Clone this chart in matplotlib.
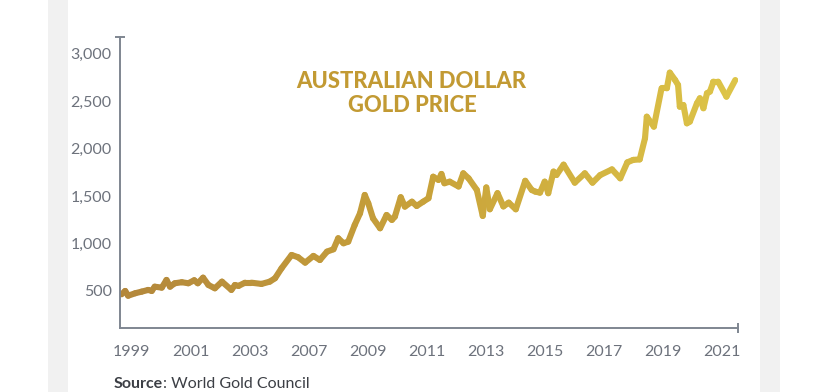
import numpy as np
import matplotlib
matplotlib.use("Agg")
import matplotlib.pyplot as plt
import matplotlib.patches as mpatches
from matplotlib.collections import LineCollection
from matplotlib.colors import LinearSegmentedColormap

# x = position along the axis in tick-label units (0 = first label, 10 = last)
period = [-0.17, -0.11, -0.06, 0.06, 0.17, 0.28, 0.34, 0.39, 0.51, 0.59,
          0.65, 0.73, 0.85, 0.96, 1.06, 1.12, 1.21, 1.30, 1.41, 1.53,
          1.69, 1.75, 1.81, 1.92, 2.03, 2.20, 2.34, 2.43, 2.54, 2.71,
          2.82, 2.94, 3.08, 3.19, 3.31, 3.42, 3.50, 3.59, 3.67, 3.78,
          3.87, 3.95, 4.01, 4.09, 4.21, 4.32, 4.41, 4.46, 4.56, 4.63,
          4.75, 4.83, 4.94, 5.03, 5.11, 5.20, 5.25, 5.30, 5.39, 5.54,
          5.62, 5.71, 5.85, 5.95, 6.01, 6.07, 6.20, 6.30, 6.39, 6.51,
          6.67, 6.78, 6.84, 6.92, 7.00, 7.06, 7.15, 7.20, 7.32, 7.51,
          7.68, 7.81, 7.94, 8.14, 8.28, 8.40, 8.50, 8.61, 8.70, 8.73,
          8.85, 8.98, 9.07, 9.12, 9.21, 9.26, 9.29, 9.35, 9.41, 9.46,
          9.58, 9.63, 9.69, 9.75, 9.80, 9.86, 9.94, 10.08, 10.23]

price_aud = [465, 500, 450, 476, 493, 511, 500, 545, 535, 616,
             545, 581, 592, 581, 613, 581, 640, 563, 528, 598,
             511, 563, 553, 587, 587, 574, 598, 634, 739, 879,
             855, 798, 869, 826, 914, 939, 1055, 1002, 1019, 1195,
             1318, 1511, 1423, 1265, 1160, 1300, 1248, 1282, 1487, 1388,
             1440, 1395, 1440, 1476, 1703, 1669, 1732, 1634, 1651, 1600,
             1739, 1686, 1563, 1290, 1590, 1360, 1530, 1390, 1430, 1360,
             1660, 1563, 1546, 1535, 1651, 1529, 1757, 1721, 1830, 1640,
             1739, 1640, 1720, 1780, 1686, 1854, 1880, 1885, 2108, 2335,
             2230, 2634, 2634, 2799, 2721, 2669, 2440, 2458, 2265, 2283,
             2476, 2529, 2424, 2582, 2599, 2704, 2704, 2546, 2721]

x_labels = ["1999", "2001", "2003", "2007", "2009", "2011",
            "2013", "2015", "2017", "2019", "2021"]
y_ticks = [500, 1000, 1500, 2000, 2500, 3000]

AXIS_GREY = "#7f8691"
TEXT_GREY = "#6d727c"
GOLD = "#c29a33"
DARK = "#3c3f45"

plt.rcParams["font.family"] = ["Lato", "DejaVu Sans"]

fig = plt.figure(figsize=(8.28, 3.92), dpi=100)
fig.patch.set_facecolor("white")

# light grey side strips of the card
for x0 in (48 / 828, 760 / 828):
    fig.patches.append(mpatches.Rectangle((x0, 0), 20 / 828, 1, transform=fig.transFigure,
                                          facecolor="#f1f1f1", edgecolor="none", zorder=0))

ax = fig.add_axes([120 / 828, 64 / 392, 618 / 828, 291 / 392])
ax.set_facecolor("none")

# gradient line: brown-gold on the left to bright gold on the right
x = np.array(period)
y = np.array(price_aud)
pts = np.column_stack([x, y]).reshape(-1, 1, 2)
segs = np.concatenate([pts[:-1], pts[1:]], axis=1)
cmap = LinearSegmentedColormap.from_list("gold", ["#b3873b", "#c8a23a", "#ddc448"])
lc = LineCollection(segs, cmap=cmap, linewidth=4.4, capstyle="round", joinstyle="round")
lc.set_array((x[:-1] + x[1:]) / 2)
lc.set_clim(x.min(), x.max())
ax.add_collection(lc)

ax.set_xlim(-0.198, 10.276)
ax.set_ylim(110, 3174)

ax.set_xticks(range(len(x_labels)))
ax.set_xticklabels(x_labels)
ax.set_yticks(y_ticks)
ax.set_yticklabels([f"{v:,}" for v in y_ticks])
ax.tick_params(axis="both", length=0, labelsize=11.5, colors=TEXT_GREY)
ax.tick_params(axis="x", pad=12)
ax.tick_params(axis="y", pad=6)

for side in ("top", "right"):
    ax.spines[side].set_visible(False)
for side in ("left", "bottom"):
    ax.spines[side].set_color(AXIS_GREY)
    ax.spines[side].set_linewidth(1.4)

# end caps on the axis lines
ax.plot([0], [1], marker="_", markersize=7, mew=1.4, color=AXIS_GREY,
        transform=ax.transAxes, clip_on=False)
ax.plot([1], [0], marker="|", markersize=7, mew=1.4, color=AXIS_GREY,
        transform=ax.transAxes, clip_on=False)

fig.text(411 / 828, 1 - 82 / 392, "AUSTRALIAN DOLLAR", ha="center", va="center",
         fontsize=15.8, fontweight="black", color=GOLD)
fig.text(412 / 828, 1 - 105 / 392, "GOLD PRICE", ha="center", va="center",
         fontsize=15.8, fontweight="black", color=GOLD)

src = fig.text(114 / 828, 1 - 377 / 392, "Source", ha="left", va="top",
               fontsize=11.5, fontweight="bold", color=DARK)
ax.annotate(": World Gold Council", xy=(1, 1), xycoords=src, ha="left", va="top",
            fontsize=11.5, color=DARK, annotation_clip=False)

fig.savefig("out.png", dpi=100)
